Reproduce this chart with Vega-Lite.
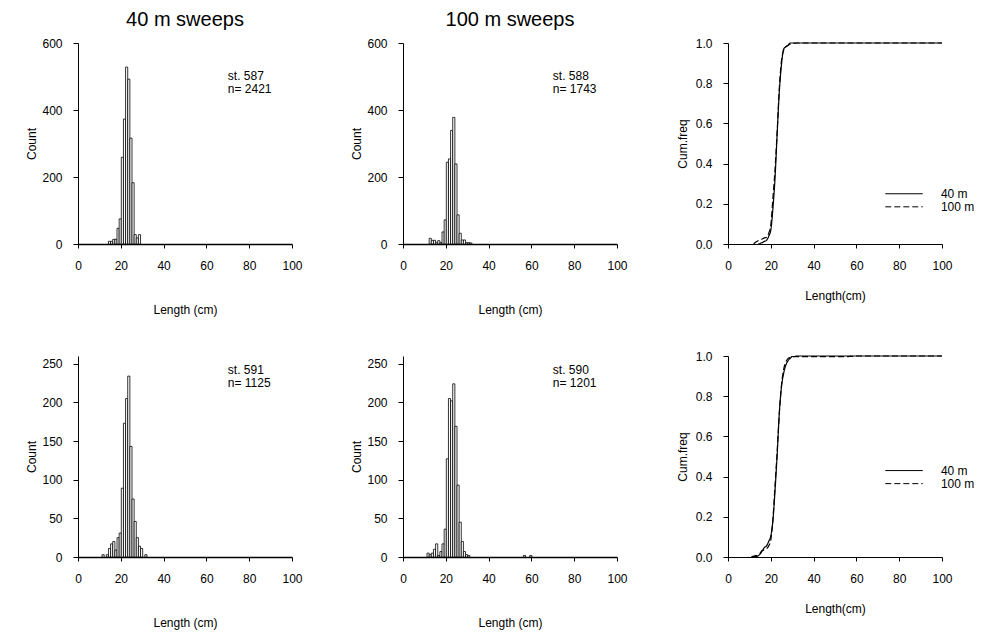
{
  "$schema": "https://vega.github.io/schema/vega-lite/v6.json",
  "background": "white",
  "padding": {"left": 25, "top": 10, "right": 2, "bottom": 2},
  "config": {
    "font": "Liberation Sans",
    "view": {"stroke": null},
    "axis": {"grid": false, "domainColor": "black", "tickColor": "black", "labelColor": "black", "titleColor": "black", "labelFontSize": 12, "titleFontSize": 12, "titleFontWeight": "normal", "tickSize": 5, "labelFont": "Liberation Sans", "titleFont": "Liberation Sans", "labelFlush": false},
    "title": {"fontSize": 20, "fontWeight": "normal", "font": "Liberation Sans", "color": "black"}
  },
  "datasets": {
    "hist": [
      {"st": "587", "lo": 14, "hi": 15, "count": 8}, {"st": "587", "lo": 15, "hi": 16, "count": 8}, {"st": "587", "lo": 16, "hi": 17, "count": 14}, {"st": "587", "lo": 17, "hi": 18, "count": 14}, {"st": "587", "lo": 18, "hi": 19, "count": 47}, {"st": "587", "lo": 19, "hi": 20, "count": 75}, {"st": "587", "lo": 20, "hi": 21, "count": 259}, {"st": "587", "lo": 21, "hi": 22, "count": 373}, {"st": "587", "lo": 22, "hi": 23, "count": 528}, {"st": "587", "lo": 23, "hi": 24, "count": 492}, {"st": "587", "lo": 24, "hi": 25, "count": 316}, {"st": "587", "lo": 25, "hi": 26, "count": 183}, {"st": "587", "lo": 26, "hi": 27, "count": 28}, {"st": "587", "lo": 27, "hi": 28, "count": 18}, {"st": "587", "lo": 28, "hi": 29, "count": 28},
      {"st": "588", "lo": 12, "hi": 13, "count": 17}, {"st": "588", "lo": 13, "hi": 14, "count": 11}, {"st": "588", "lo": 14, "hi": 15, "count": 11}, {"st": "588", "lo": 15, "hi": 16, "count": 5}, {"st": "588", "lo": 16, "hi": 17, "count": 10}, {"st": "588", "lo": 17, "hi": 18, "count": 4}, {"st": "588", "lo": 18, "hi": 19, "count": 36}, {"st": "588", "lo": 19, "hi": 20, "count": 72}, {"st": "588", "lo": 20, "hi": 21, "count": 244}, {"st": "588", "lo": 21, "hi": 22, "count": 254}, {"st": "588", "lo": 22, "hi": 23, "count": 339}, {"st": "588", "lo": 23, "hi": 24, "count": 378}, {"st": "588", "lo": 24, "hi": 25, "count": 239}, {"st": "588", "lo": 25, "hi": 26, "count": 87}, {"st": "588", "lo": 26, "hi": 27, "count": 32}, {"st": "588", "lo": 27, "hi": 28, "count": 12}, {"st": "588", "lo": 28, "hi": 29, "count": 12}, {"st": "588", "lo": 29, "hi": 30, "count": 4}, {"st": "588", "lo": 30, "hi": 31, "count": 4}, {"st": "588", "lo": 31, "hi": 32, "count": 3},
      {"st": "591", "lo": 11, "hi": 12, "count": 3}, {"st": "591", "lo": 13, "hi": 14, "count": 3}, {"st": "591", "lo": 14, "hi": 15, "count": 11}, {"st": "591", "lo": 15, "hi": 16, "count": 17}, {"st": "591", "lo": 16, "hi": 17, "count": 20}, {"st": "591", "lo": 17, "hi": 18, "count": 9}, {"st": "591", "lo": 18, "hi": 19, "count": 25}, {"st": "591", "lo": 19, "hi": 20, "count": 31}, {"st": "591", "lo": 20, "hi": 21, "count": 89}, {"st": "591", "lo": 21, "hi": 22, "count": 173}, {"st": "591", "lo": 22, "hi": 23, "count": 205}, {"st": "591", "lo": 23, "hi": 24, "count": 234}, {"st": "591", "lo": 24, "hi": 25, "count": 143}, {"st": "591", "lo": 25, "hi": 26, "count": 75}, {"st": "591", "lo": 26, "hi": 27, "count": 46}, {"st": "591", "lo": 27, "hi": 28, "count": 25}, {"st": "591", "lo": 28, "hi": 29, "count": 14}, {"st": "591", "lo": 29, "hi": 30, "count": 11}, {"st": "591", "lo": 31, "hi": 32, "count": 3},
      {"st": "590", "lo": 11, "hi": 12, "count": 5}, {"st": "590", "lo": 12, "hi": 13, "count": 3}, {"st": "590", "lo": 13, "hi": 14, "count": 5}, {"st": "590", "lo": 14, "hi": 15, "count": 10}, {"st": "590", "lo": 15, "hi": 16, "count": 17}, {"st": "590", "lo": 16, "hi": 17, "count": 2}, {"st": "590", "lo": 17, "hi": 18, "count": 7}, {"st": "590", "lo": 18, "hi": 19, "count": 17}, {"st": "590", "lo": 19, "hi": 20, "count": 36}, {"st": "590", "lo": 20, "hi": 21, "count": 127}, {"st": "590", "lo": 21, "hi": 22, "count": 205}, {"st": "590", "lo": 22, "hi": 23, "count": 202}, {"st": "590", "lo": 23, "hi": 24, "count": 224}, {"st": "590", "lo": 24, "hi": 25, "count": 169}, {"st": "590", "lo": 25, "hi": 26, "count": 93}, {"st": "590", "lo": 26, "hi": 27, "count": 45}, {"st": "590", "lo": 27, "hi": 28, "count": 20}, {"st": "590", "lo": 28, "hi": 29, "count": 7}, {"st": "590", "lo": 29, "hi": 30, "count": 3}, {"st": "590", "lo": 30, "hi": 31, "count": 2}, {"st": "590", "lo": 56, "hi": 57, "count": 2}, {"st": "590", "lo": 59, "hi": 60, "count": 2}
    ],
    "cum": [
      {"row": "top", "series": "40 m", "len": 14, "cf": 0}, {"row": "top", "series": "40 m", "len": 15, "cf": 0.003}, {"row": "top", "series": "40 m", "len": 16, "cf": 0.007}, {"row": "top", "series": "40 m", "len": 17, "cf": 0.013}, {"row": "top", "series": "40 m", "len": 18, "cf": 0.018}, {"row": "top", "series": "40 m", "len": 19, "cf": 0.038}, {"row": "top", "series": "40 m", "len": 20, "cf": 0.069}, {"row": "top", "series": "40 m", "len": 21, "cf": 0.178}, {"row": "top", "series": "40 m", "len": 22, "cf": 0.333}, {"row": "top", "series": "40 m", "len": 23, "cf": 0.555}, {"row": "top", "series": "40 m", "len": 24, "cf": 0.761}, {"row": "top", "series": "40 m", "len": 25, "cf": 0.893}, {"row": "top", "series": "40 m", "len": 26, "cf": 0.969}, {"row": "top", "series": "40 m", "len": 27, "cf": 0.981}, {"row": "top", "series": "40 m", "len": 28, "cf": 0.988}, {"row": "top", "series": "40 m", "len": 29, "cf": 1.0}, {"row": "top", "series": "40 m", "len": 100, "cf": 1.0},
      {"row": "top", "series": "100 m", "len": 12, "cf": 0}, {"row": "top", "series": "100 m", "len": 13, "cf": 0.0096}, {"row": "top", "series": "100 m", "len": 14, "cf": 0.0158}, {"row": "top", "series": "100 m", "len": 15, "cf": 0.022}, {"row": "top", "series": "100 m", "len": 16, "cf": 0.0248}, {"row": "top", "series": "100 m", "len": 17, "cf": 0.0304}, {"row": "top", "series": "100 m", "len": 18, "cf": 0.0327}, {"row": "top", "series": "100 m", "len": 19, "cf": 0.053}, {"row": "top", "series": "100 m", "len": 20, "cf": 0.0935}, {"row": "top", "series": "100 m", "len": 21, "cf": 0.231}, {"row": "top", "series": "100 m", "len": 22, "cf": 0.374}, {"row": "top", "series": "100 m", "len": 23, "cf": 0.565}, {"row": "top", "series": "100 m", "len": 24, "cf": 0.779}, {"row": "top", "series": "100 m", "len": 25, "cf": 0.914}, {"row": "top", "series": "100 m", "len": 26, "cf": 0.963}, {"row": "top", "series": "100 m", "len": 27, "cf": 0.981}, {"row": "top", "series": "100 m", "len": 28, "cf": 0.988}, {"row": "top", "series": "100 m", "len": 29, "cf": 0.994}, {"row": "top", "series": "100 m", "len": 30, "cf": 0.997}, {"row": "top", "series": "100 m", "len": 32, "cf": 1.0}, {"row": "top", "series": "100 m", "len": 100, "cf": 1.0},
      {"row": "bottom", "series": "40 m", "len": 11, "cf": 0}, {"row": "bottom", "series": "40 m", "len": 12, "cf": 0.0026}, {"row": "bottom", "series": "40 m", "len": 13, "cf": 0.0026}, {"row": "bottom", "series": "40 m", "len": 14, "cf": 0.0053}, {"row": "bottom", "series": "40 m", "len": 15, "cf": 0.0149}, {"row": "bottom", "series": "40 m", "len": 16, "cf": 0.0299}, {"row": "bottom", "series": "40 m", "len": 17, "cf": 0.0474}, {"row": "bottom", "series": "40 m", "len": 18, "cf": 0.0553}, {"row": "bottom", "series": "40 m", "len": 19, "cf": 0.0773}, {"row": "bottom", "series": "40 m", "len": 20, "cf": 0.1045}, {"row": "bottom", "series": "40 m", "len": 21, "cf": 0.1826}, {"row": "bottom", "series": "40 m", "len": 22, "cf": 0.3345}, {"row": "bottom", "series": "40 m", "len": 23, "cf": 0.5145}, {"row": "bottom", "series": "40 m", "len": 24, "cf": 0.7217}, {"row": "bottom", "series": "40 m", "len": 25, "cf": 0.8472}, {"row": "bottom", "series": "40 m", "len": 26, "cf": 0.9131}, {"row": "bottom", "series": "40 m", "len": 27, "cf": 0.9535}, {"row": "bottom", "series": "40 m", "len": 28, "cf": 0.9754}, {"row": "bottom", "series": "40 m", "len": 29, "cf": 0.9877}, {"row": "bottom", "series": "40 m", "len": 30, "cf": 0.9974}, {"row": "bottom", "series": "40 m", "len": 31, "cf": 0.9974}, {"row": "bottom", "series": "40 m", "len": 32, "cf": 1.0}, {"row": "bottom", "series": "40 m", "len": 100, "cf": 1.0},
      {"row": "bottom", "series": "100 m", "len": 11, "cf": 0}, {"row": "bottom", "series": "100 m", "len": 12, "cf": 0.0042}, {"row": "bottom", "series": "100 m", "len": 13, "cf": 0.0066}, {"row": "bottom", "series": "100 m", "len": 14, "cf": 0.0108}, {"row": "bottom", "series": "100 m", "len": 15, "cf": 0.0191}, {"row": "bottom", "series": "100 m", "len": 16, "cf": 0.0332}, {"row": "bottom", "series": "100 m", "len": 17, "cf": 0.0349}, {"row": "bottom", "series": "100 m", "len": 18, "cf": 0.0407}, {"row": "bottom", "series": "100 m", "len": 19, "cf": 0.0548}, {"row": "bottom", "series": "100 m", "len": 20, "cf": 0.0847}, {"row": "bottom", "series": "100 m", "len": 21, "cf": 0.19}, {"row": "bottom", "series": "100 m", "len": 22, "cf": 0.3605}, {"row": "bottom", "series": "100 m", "len": 23, "cf": 0.528}, {"row": "bottom", "series": "100 m", "len": 24, "cf": 0.715}, {"row": "bottom", "series": "100 m", "len": 25, "cf": 0.855}, {"row": "bottom", "series": "100 m", "len": 26, "cf": 0.933}, {"row": "bottom", "series": "100 m", "len": 27, "cf": 0.97}, {"row": "bottom", "series": "100 m", "len": 28, "cf": 0.987}, {"row": "bottom", "series": "100 m", "len": 29, "cf": 0.9925}, {"row": "bottom", "series": "100 m", "len": 30, "cf": 0.995}, {"row": "bottom", "series": "100 m", "len": 31, "cf": 0.9967}, {"row": "bottom", "series": "100 m", "len": 56, "cf": 0.9967}, {"row": "bottom", "series": "100 m", "len": 57, "cf": 0.9983}, {"row": "bottom", "series": "100 m", "len": 59, "cf": 0.9983}, {"row": "bottom", "series": "100 m", "len": 60, "cf": 1.0}, {"row": "bottom", "series": "100 m", "len": 100, "cf": 1.0}
    ],
    "ann": [
      {"st": "587", "label": "st. 587\nn= 2421"},
      {"st": "588", "label": "st. 588\nn= 1743"},
      {"st": "591", "label": "st. 591\nn= 1125"},
      {"st": "590", "label": "st. 590\nn= 1201"}
    ]
  },
  "columns": 3,
  "spacing": {"row": 112, "column": 111},
  "bounds": "flush",
  "concat": [
    {
      "width": 214, "height": 201,
      "title": {"text": "40 m sweeps", "frame": "group", "offset": 7},
      "layer": [
        {"data": {"name": "hist"}, "transform": [{"filter": "datum.st == '587'"}],
         "mark": {"type": "bar", "fill": "white", "stroke": "black", "strokeWidth": 0.8, "binSpacing": 0},
         "encoding": {
           "x": {"field": "lo", "type": "quantitative", "bin": {"binned": true, "step": 1}, "scale": {"domain": [0, 100]}, "axis": {"values": [0, 20, 40, 60, 80, 100], "title": "Length (cm)", "titlePadding": 33, "domainWidth": 1.5, "tickSize": 4, "labelPadding": 12}},
           "x2": {"field": "hi"},
           "y": {"field": "count", "type": "quantitative", "scale": {"domain": [0, 600]}, "axis": {"values": [0, 100, 200, 300, 400, 500, 600], "title": "Count", "titlePadding": 3, "labelPadding": 11}}
         }},
        {"data": {"name": "ann"}, "transform": [{"filter": "datum.st == '587'"}],
         "mark": {"type": "text", "align": "left", "baseline": "top", "fontSize": 12, "lineHeight": 13, "lineBreak": "\n", "color": "black"},
         "encoding": {"x": {"datum": 70}, "y": {"datum": 516}, "text": {"field": "label"}}}
      ]
    },
    {
      "width": 214, "height": 201,
      "title": {"text": "100 m sweeps", "frame": "group", "offset": 7},
      "layer": [
        {"data": {"name": "hist"}, "transform": [{"filter": "datum.st == '588'"}],
         "mark": {"type": "bar", "fill": "white", "stroke": "black", "strokeWidth": 0.8, "binSpacing": 0},
         "encoding": {
           "x": {"field": "lo", "type": "quantitative", "bin": {"binned": true, "step": 1}, "scale": {"domain": [0, 100]}, "axis": {"values": [0, 20, 40, 60, 80, 100], "title": "Length (cm)", "titlePadding": 33, "domainWidth": 1.5, "tickSize": 4, "labelPadding": 12}},
           "x2": {"field": "hi"},
           "y": {"field": "count", "type": "quantitative", "scale": {"domain": [0, 600]}, "axis": {"values": [0, 100, 200, 300, 400, 500, 600], "title": "Count", "titlePadding": 3, "labelPadding": 11}}
         }},
        {"data": {"name": "ann"}, "transform": [{"filter": "datum.st == '588'"}],
         "mark": {"type": "text", "align": "left", "baseline": "top", "fontSize": 12, "lineHeight": 13, "lineBreak": "\n", "color": "black"},
         "encoding": {"x": {"datum": 70}, "y": {"datum": 516}, "text": {"field": "label"}}}
      ]
    },
    {
      "width": 214, "height": 201,
      "layer": [
        {"data": {"name": "cum"}, "transform": [{"filter": "datum.row == 'top'"}],
         "mark": {"type": "line", "color": "black", "strokeWidth": 1.2, "interpolate": "monotone"},
         "encoding": {
           "x": {"field": "len", "type": "quantitative", "scale": {"domain": [0, 100]}, "axis": {"values": [0, 20, 40, 60, 80, 100], "title": "Length(cm)", "titlePadding": 19, "tickSize": 4, "labelPadding": 12}},
           "y": {"field": "cf", "type": "quantitative", "scale": {"domain": [0, 1]}, "axis": {"values": [0, 0.2, 0.4, 0.6, 0.8, 1.0], "format": ".1f", "title": "Cum.freq", "titlePadding": 6, "labelPadding": 11}},
           "strokeDash": {"field": "series", "type": "nominal", "scale": {"domain": ["40 m", "100 m"], "range": [[1, 0], [6, 3]]}, "legend": null}
         }},
        {"data": {"values": [{}]}, "mark": {"type": "rule", "color": "black", "strokeWidth": 1},
         "encoding": {"x": {"datum": 73.5}, "x2": {"datum": 91}, "y": {"datum": 0.25}}},
        {"data": {"values": [{}]}, "mark": {"type": "rule", "color": "black", "strokeWidth": 1, "strokeDash": [6, 3]},
         "encoding": {"x": {"datum": 73.5}, "x2": {"datum": 91}, "y": {"datum": 0.185}}},
        {"data": {"values": [{}]}, "mark": {"type": "text", "align": "left", "baseline": "middle", "fontSize": 12, "color": "black"},
         "encoding": {"x": {"datum": 99.5}, "y": {"datum": 0.25}, "text": {"value": "40 m"}}},
        {"data": {"values": [{}]}, "mark": {"type": "text", "align": "left", "baseline": "middle", "fontSize": 12, "color": "black"},
         "encoding": {"x": {"datum": 99.5}, "y": {"datum": 0.185}, "text": {"value": "100 m"}}}
      ]
    },
    {
      "width": 214, "height": 201,
      "layer": [
        {"data": {"name": "hist"}, "transform": [{"filter": "datum.st == '591'"}],
         "mark": {"type": "bar", "fill": "white", "stroke": "black", "strokeWidth": 0.8, "binSpacing": 0},
         "encoding": {
           "x": {"field": "lo", "type": "quantitative", "bin": {"binned": true, "step": 1}, "scale": {"domain": [0, 100]}, "axis": {"values": [0, 20, 40, 60, 80, 100], "title": "Length (cm)", "titlePadding": 33, "domainWidth": 1.5, "tickSize": 4, "labelPadding": 12}},
           "x2": {"field": "hi"},
           "y": {"field": "count", "type": "quantitative", "scale": {"domain": [0, 250]}, "axis": {"values": [0, 50, 100, 150, 200, 250], "title": "Count", "titlePadding": 3, "labelPadding": 11}}
         }},
        {"data": {"name": "ann"}, "transform": [{"filter": "datum.st == '591'"}],
         "mark": {"type": "text", "align": "left", "baseline": "top", "fontSize": 12, "lineHeight": 13, "lineBreak": "\n", "color": "black"},
         "encoding": {"x": {"datum": 70}, "y": {"datum": 249}, "text": {"field": "label"}}}
      ]
    },
    {
      "width": 214, "height": 201,
      "layer": [
        {"data": {"name": "hist"}, "transform": [{"filter": "datum.st == '590'"}],
         "mark": {"type": "bar", "fill": "white", "stroke": "black", "strokeWidth": 0.8, "binSpacing": 0},
         "encoding": {
           "x": {"field": "lo", "type": "quantitative", "bin": {"binned": true, "step": 1}, "scale": {"domain": [0, 100]}, "axis": {"values": [0, 20, 40, 60, 80, 100], "title": "Length (cm)", "titlePadding": 33, "domainWidth": 1.5, "tickSize": 4, "labelPadding": 12}},
           "x2": {"field": "hi"},
           "y": {"field": "count", "type": "quantitative", "scale": {"domain": [0, 250]}, "axis": {"values": [0, 50, 100, 150, 200, 250], "title": "Count", "titlePadding": 3, "labelPadding": 11}}
         }},
        {"data": {"name": "ann"}, "transform": [{"filter": "datum.st == '590'"}],
         "mark": {"type": "text", "align": "left", "baseline": "top", "fontSize": 12, "lineHeight": 13, "lineBreak": "\n", "color": "black"},
         "encoding": {"x": {"datum": 70}, "y": {"datum": 249}, "text": {"field": "label"}}}
      ]
    },
    {
      "width": 214, "height": 201,
      "layer": [
        {"data": {"name": "cum"}, "transform": [{"filter": "datum.row == 'bottom'"}],
         "mark": {"type": "line", "color": "black", "strokeWidth": 1.2, "interpolate": "monotone"},
         "encoding": {
           "x": {"field": "len", "type": "quantitative", "scale": {"domain": [0, 100]}, "axis": {"values": [0, 20, 40, 60, 80, 100], "title": "Length(cm)", "titlePadding": 19, "tickSize": 4, "labelPadding": 12}},
           "y": {"field": "cf", "type": "quantitative", "scale": {"domain": [0, 1]}, "axis": {"values": [0, 0.2, 0.4, 0.6, 0.8, 1.0], "format": ".1f", "title": "Cum.freq", "titlePadding": 6, "labelPadding": 11}},
           "strokeDash": {"field": "series", "type": "nominal", "scale": {"domain": ["40 m", "100 m"], "range": [[1, 0], [6, 3]]}, "legend": null}
         }},
        {"data": {"values": [{}]}, "mark": {"type": "rule", "color": "black", "strokeWidth": 1},
         "encoding": {"x": {"datum": 73.5}, "x2": {"datum": 91}, "y": {"datum": 0.43}}},
        {"data": {"values": [{}]}, "mark": {"type": "rule", "color": "black", "strokeWidth": 1, "strokeDash": [6, 3]},
         "encoding": {"x": {"datum": 73.5}, "x2": {"datum": 91}, "y": {"datum": 0.365}}},
        {"data": {"values": [{}]}, "mark": {"type": "text", "align": "left", "baseline": "middle", "fontSize": 12, "color": "black"},
         "encoding": {"x": {"datum": 99.5}, "y": {"datum": 0.43}, "text": {"value": "40 m"}}},
        {"data": {"values": [{}]}, "mark": {"type": "text", "align": "left", "baseline": "middle", "fontSize": 12, "color": "black"},
         "encoding": {"x": {"datum": 99.5}, "y": {"datum": 0.365}, "text": {"value": "100 m"}}}
      ]
    }
  ]
}
